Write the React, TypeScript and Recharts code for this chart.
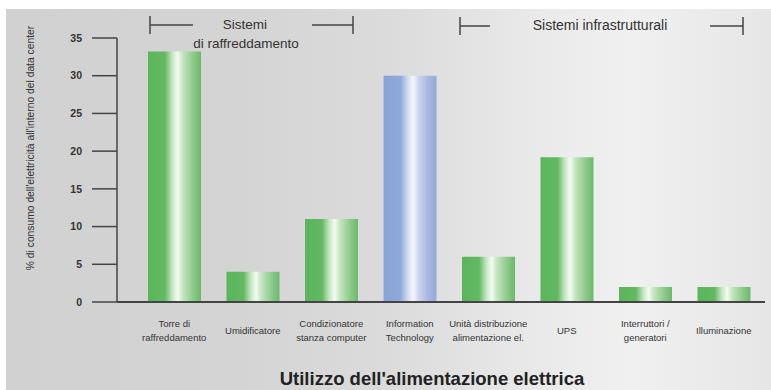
import React from "react";
import { BarChart, Bar, XAxis, YAxis, Cell } from "recharts";

const categories = [
  "Torre di\nraffreddamento",
  "Umidificatore",
  "Condizionatore\nstanza computer",
  "Information\nTechnology",
  "Unità distribuzione\nalimentazione el.",
  "UPS",
  "Interruttori /\ngeneratori",
  "Illuminazione",
];
const values = [33.2, 4, 11, 30, 6, 19.2, 2, 2];
const isIT = [false, false, false, true, false, false, false, false];
const yTicks = [0, 5, 10, 15, 20, 25, 30, 35];

const data = categories.map((name, i) => ({ name, value: values[i], it: isIT[i] }));

const FONT = "'Liberation Sans', Arial, sans-serif";
const INK = "#333";

function CategoryTick(props: any) {
  const { x, y, payload } = props;
  const lines = String(payload.value).split("\n");
  const startY = lines.length === 1 ? y + 24 : y + 17;
  return (
    <text x={x} y={startY} textAnchor="middle" fontSize={9.5} fill={INK} fontFamily={FONT}>
      {lines.map((l, i) => (
        <tspan key={i} x={x} dy={i === 0 ? 0 : 14}>
          {l}
        </tspan>
      ))}
    </text>
  );
}

function Bracket({ x1, x2, y, gapFrom, gapTo }: { x1: number; x2: number; y: number; gapFrom: number; gapTo: number }) {
  return (
    <g stroke="#444" strokeWidth={1.5}>
      <line x1={x1} y1={y - 9} x2={x1} y2={y + 9} />
      <line x1={x2} y1={y - 9} x2={x2} y2={y + 9} />
      <line x1={x1} y1={y} x2={gapFrom} y2={y} />
      <line x1={gapTo} y1={y} x2={x2} y2={y} />
    </g>
  );
}

export default function App() {
  return (
    <div style={{ position: "absolute", left: 0, top: 0, width: 771, height: 390, background: "#fff" }}>
      <div
        style={{
          position: "absolute",
          left: 6,
          top: 9,
          right: 0,
          bottom: 0,
          background:
            "linear-gradient(90deg, #d1d1d1 0%, #d4d4d4 30%, #dbdbdb 50%, #eaeaea 70%, #f0f0f0 82%, #e6e6e6 100%)",
        }}
      />
      <div style={{ position: "absolute", left: 0, top: 0 }}>
        <BarChart
          width={771}
          height={390}
          data={data}
          margin={{ top: 38, right: 6, bottom: 0, left: 0 }}
          barSize={53}
        >
          <defs>
            <linearGradient id="gGreen" x1="0" y1="0" x2="1" y2="0">
              <stop offset="0%" stopColor="#5bb55b" />
              <stop offset="32%" stopColor="#62b962" />
              <stop offset="46%" stopColor="#c6e6c4" />
              <stop offset="56%" stopColor="#f4fbf1" />
              <stop offset="66%" stopColor="#c4e4bf" />
              <stop offset="84%" stopColor="#8fcc8b" />
              <stop offset="100%" stopColor="#6bb96b" />
            </linearGradient>
            <linearGradient id="gBlue" x1="0" y1="0" x2="1" y2="0">
              <stop offset="0%" stopColor="#88a4d8" />
              <stop offset="32%" stopColor="#8eaada" />
              <stop offset="46%" stopColor="#d2dcf0" />
              <stop offset="56%" stopColor="#f4f6fb" />
              <stop offset="66%" stopColor="#ccd6ee" />
              <stop offset="84%" stopColor="#a7b8e0" />
              <stop offset="100%" stopColor="#96abda" />
            </linearGradient>
          </defs>
          <XAxis
            dataKey="name"
            interval={0}
            height={88}
            tickLine={false}
            tick={<CategoryTick />}
            axisLine={{ stroke: "#444", strokeWidth: 2 }}
            padding={{ left: 18, right: 2 }}
          />
          <YAxis
            width={117}
            domain={[0, 35]}
            ticks={yTicks}
            tickSize={25}
            tickMargin={10}
            tickLine={{ stroke: "#444", strokeWidth: 1.5 }}
            axisLine={{ stroke: "#444", strokeWidth: 1.5 }}
            tick={{ fontSize: 10.5, fontWeight: 700, fill: INK, fontFamily: FONT }}
          />
          <Bar dataKey="value" isAnimationActive={false}>
            {data.map((d, i) => (
              <Cell key={i} fill={d.it ? "url(#gBlue)" : "url(#gGreen)"} />
            ))}
          </Bar>
        </BarChart>
      </div>
      <svg width={771} height={390} style={{ position: "absolute", left: 0, top: 0, pointerEvents: "none" }}>
        <Bracket x1={150} x2={353} y={25} gapFrom={193} gapTo={312} />
        <text x={245} y={29} textAnchor="middle" fontSize={13.5} fill={INK} fontFamily={FONT}>
          Sistemi
        </text>
        <text x={246} y={48} textAnchor="middle" fontSize={13.5} fill={INK} fontFamily={FONT}>
          di raffreddamento
        </text>
        <Bracket x1={460} x2={743} y={26} gapFrom={490} gapTo={710} />
        <text x={600} y={30} textAnchor="middle" fontSize={14} fill={INK} fontFamily={FONT}>
          Sistemi infrastrutturali
        </text>
        <text
          x={0}
          y={0}
          transform="translate(34,148) rotate(-90)"
          textAnchor="middle"
          fontSize={10.3}
          fill={INK}
          fontFamily={FONT}
        >
          % di consumo dell'elettricità all'interno del data center
        </text>
        <text x={432} y={385} textAnchor="middle" fontSize={18.5} fontWeight={700} fill="#222" fontFamily={FONT}>
          Utilizzo dell'alimentazione elettrica
        </text>
      </svg>
    </div>
  );
}
